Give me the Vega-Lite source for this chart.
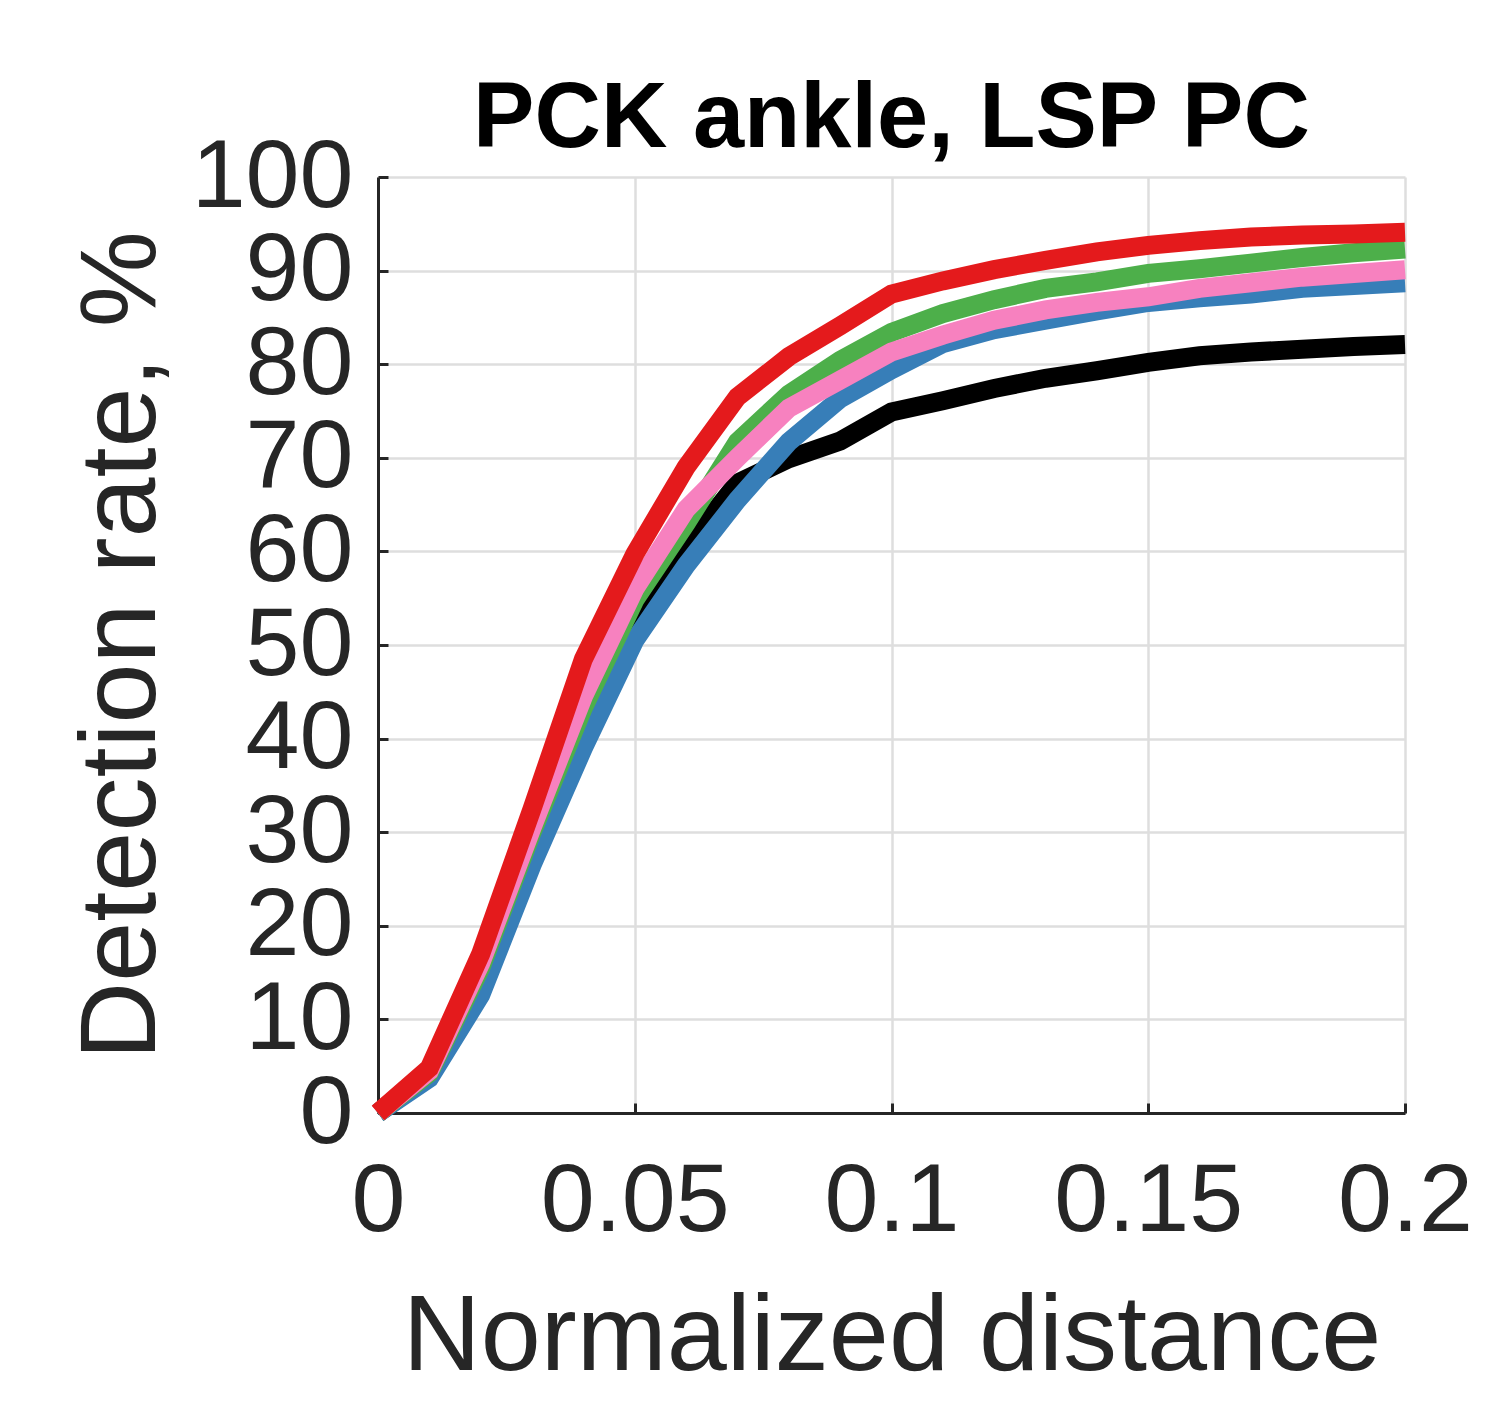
{
  "$schema": "https://vega.github.io/schema/vega-lite/v6.json",
  "description": "PCK ankle curves on LSP PC",
  "width": 1027,
  "height": 936,
  "autosize": "none",
  "padding": {"left": 378, "top": 177, "right": 95, "bottom": 312},
  "background": "white",
  "title": {
    "text": "PCK ankle, LSP PC",
    "font": "Liberation Sans",
    "fontSize": 92,
    "fontWeight": "bold",
    "color": "#000000",
    "anchor": "middle",
    "frame": "group",
    "offset": 10,
    "dy": 48
  },
  "data": {
    "values": [
      {"method": "A", "dist": 0, "rate": 0},
      {"method": "A", "dist": 0.01, "rate": 4},
      {"method": "A", "dist": 0.02, "rate": 15},
      {"method": "A", "dist": 0.03, "rate": 29.5},
      {"method": "A", "dist": 0.04, "rate": 42.5},
      {"method": "A", "dist": 0.05, "rate": 53.5},
      {"method": "A", "dist": 0.06, "rate": 60.4},
      {"method": "A", "dist": 0.07, "rate": 67.3},
      {"method": "A", "dist": 0.08, "rate": 69.9},
      {"method": "A", "dist": 0.09, "rate": 71.8},
      {"method": "A", "dist": 0.1, "rate": 74.9},
      {"method": "A", "dist": 0.11, "rate": 76.1},
      {"method": "A", "dist": 0.12, "rate": 77.4},
      {"method": "A", "dist": 0.13, "rate": 78.5},
      {"method": "A", "dist": 0.14, "rate": 79.3},
      {"method": "A", "dist": 0.15, "rate": 80.2},
      {"method": "A", "dist": 0.16, "rate": 80.9},
      {"method": "A", "dist": 0.17, "rate": 81.3},
      {"method": "A", "dist": 0.18, "rate": 81.6},
      {"method": "A", "dist": 0.19, "rate": 81.9},
      {"method": "A", "dist": 0.2, "rate": 82.1},
      {"method": "B", "dist": 0, "rate": 0},
      {"method": "B", "dist": 0.01, "rate": 3.7},
      {"method": "B", "dist": 0.02, "rate": 12.6},
      {"method": "B", "dist": 0.03, "rate": 26.5},
      {"method": "B", "dist": 0.04, "rate": 39},
      {"method": "B", "dist": 0.05, "rate": 50.5},
      {"method": "B", "dist": 0.06, "rate": 58.5},
      {"method": "B", "dist": 0.07, "rate": 65.5},
      {"method": "B", "dist": 0.08, "rate": 71.7},
      {"method": "B", "dist": 0.09, "rate": 76.3},
      {"method": "B", "dist": 0.1, "rate": 79.4},
      {"method": "B", "dist": 0.11, "rate": 82.2},
      {"method": "B", "dist": 0.12, "rate": 83.7},
      {"method": "B", "dist": 0.13, "rate": 84.7},
      {"method": "B", "dist": 0.14, "rate": 85.7},
      {"method": "B", "dist": 0.15, "rate": 86.6},
      {"method": "B", "dist": 0.16, "rate": 87.1},
      {"method": "B", "dist": 0.17, "rate": 87.5},
      {"method": "B", "dist": 0.18, "rate": 88.1},
      {"method": "B", "dist": 0.19, "rate": 88.4},
      {"method": "B", "dist": 0.2, "rate": 88.7},
      {"method": "C", "dist": 0, "rate": 0},
      {"method": "C", "dist": 0.01, "rate": 4.3},
      {"method": "C", "dist": 0.02, "rate": 15.5},
      {"method": "C", "dist": 0.03, "rate": 30},
      {"method": "C", "dist": 0.04, "rate": 43.3},
      {"method": "C", "dist": 0.05, "rate": 54.8},
      {"method": "C", "dist": 0.06, "rate": 63},
      {"method": "C", "dist": 0.07, "rate": 71.7},
      {"method": "C", "dist": 0.08, "rate": 76.8},
      {"method": "C", "dist": 0.09, "rate": 80.4},
      {"method": "C", "dist": 0.1, "rate": 83.4},
      {"method": "C", "dist": 0.11, "rate": 85.4},
      {"method": "C", "dist": 0.12, "rate": 86.9},
      {"method": "C", "dist": 0.13, "rate": 88.1},
      {"method": "C", "dist": 0.14, "rate": 88.8},
      {"method": "C", "dist": 0.15, "rate": 89.7},
      {"method": "C", "dist": 0.16, "rate": 90.2},
      {"method": "C", "dist": 0.17, "rate": 90.8},
      {"method": "C", "dist": 0.18, "rate": 91.4},
      {"method": "C", "dist": 0.19, "rate": 91.9},
      {"method": "C", "dist": 0.2, "rate": 92.3},
      {"method": "D", "dist": 0, "rate": 0},
      {"method": "D", "dist": 0.01, "rate": 4.5},
      {"method": "D", "dist": 0.02, "rate": 16},
      {"method": "D", "dist": 0.03, "rate": 30.5},
      {"method": "D", "dist": 0.04, "rate": 44.5},
      {"method": "D", "dist": 0.05, "rate": 56},
      {"method": "D", "dist": 0.06, "rate": 64.5},
      {"method": "D", "dist": 0.07, "rate": 70},
      {"method": "D", "dist": 0.08, "rate": 75.3},
      {"method": "D", "dist": 0.09, "rate": 78.3},
      {"method": "D", "dist": 0.1, "rate": 81.3},
      {"method": "D", "dist": 0.11, "rate": 83.1},
      {"method": "D", "dist": 0.12, "rate": 84.7},
      {"method": "D", "dist": 0.13, "rate": 85.8},
      {"method": "D", "dist": 0.14, "rate": 86.6},
      {"method": "D", "dist": 0.15, "rate": 87.2},
      {"method": "D", "dist": 0.16, "rate": 88.1},
      {"method": "D", "dist": 0.17, "rate": 88.7},
      {"method": "D", "dist": 0.18, "rate": 89.3},
      {"method": "D", "dist": 0.19, "rate": 89.7},
      {"method": "D", "dist": 0.2, "rate": 90.1},
      {"method": "E", "dist": 0, "rate": 0},
      {"method": "E", "dist": 0.01, "rate": 4.8},
      {"method": "E", "dist": 0.02, "rate": 17},
      {"method": "E", "dist": 0.03, "rate": 32.5},
      {"method": "E", "dist": 0.04, "rate": 48.5},
      {"method": "E", "dist": 0.05, "rate": 59.7},
      {"method": "E", "dist": 0.06, "rate": 69},
      {"method": "E", "dist": 0.07, "rate": 76.5},
      {"method": "E", "dist": 0.08, "rate": 80.8},
      {"method": "E", "dist": 0.09, "rate": 84.1},
      {"method": "E", "dist": 0.1, "rate": 87.5},
      {"method": "E", "dist": 0.11, "rate": 88.9},
      {"method": "E", "dist": 0.12, "rate": 90.1},
      {"method": "E", "dist": 0.13, "rate": 91.1},
      {"method": "E", "dist": 0.14, "rate": 92},
      {"method": "E", "dist": 0.15, "rate": 92.7},
      {"method": "E", "dist": 0.16, "rate": 93.2},
      {"method": "E", "dist": 0.17, "rate": 93.6},
      {"method": "E", "dist": 0.18, "rate": 93.8},
      {"method": "E", "dist": 0.19, "rate": 93.9},
      {"method": "E", "dist": 0.2, "rate": 94.1}
    ]
  },
  "mark": {"type": "line", "strokeWidth": 19, "clip": false},
  "encoding": {
    "x": {
      "field": "dist",
      "type": "quantitative",
      "scale": {"domain": [0, 0.2], "nice": false, "zero": false},
      "axis": {
        "title": "Normalized distance",
        "values": [0, 0.05, 0.1, 0.15, 0.2],
        "format": "~g",
        "labelPadding": 50,
        "titlePadding": 35
      }
    },
    "y": {
      "field": "rate",
      "type": "quantitative",
      "scale": {"domain": [0, 100], "nice": false},
      "axis": {
        "title": "Detection rate,  %",
        "values": [0, 10, 20, 30, 40, 50, 60, 70, 80, 90, 100],
        "labelPadding": 35,
        "titlePadding": 14
      }
    },
    "color": {
      "field": "method",
      "type": "nominal",
      "scale": {
        "domain": ["A", "B", "C", "D", "E"],
        "range": ["#000000", "#377eb8", "#4daf4a", "#f781bf", "#e41a1c"]
      },
      "legend": null
    },
    "order": {"field": "dist", "type": "quantitative"}
  },
  "config": {
    "view": {"stroke": null},
    "axis": {
      "domainColor": "#262626",
      "domainWidth": 3,
      "tickColor": "#262626",
      "tickWidth": 3,
      "tickSize": -10,
      "gridColor": "#dedede",
      "gridWidth": 2.5,
      "labelFont": "Liberation Sans",
      "labelFontSize": 97,
      "labelColor": "#262626",
      "labelLimit": 0,
      "labelOverlap": false,
      "labelFlush": false,
      "titleFont": "Liberation Sans",
      "titleFontSize": 108,
      "titleFontWeight": "normal",
      "titleColor": "#262626"
    }
  }
}
